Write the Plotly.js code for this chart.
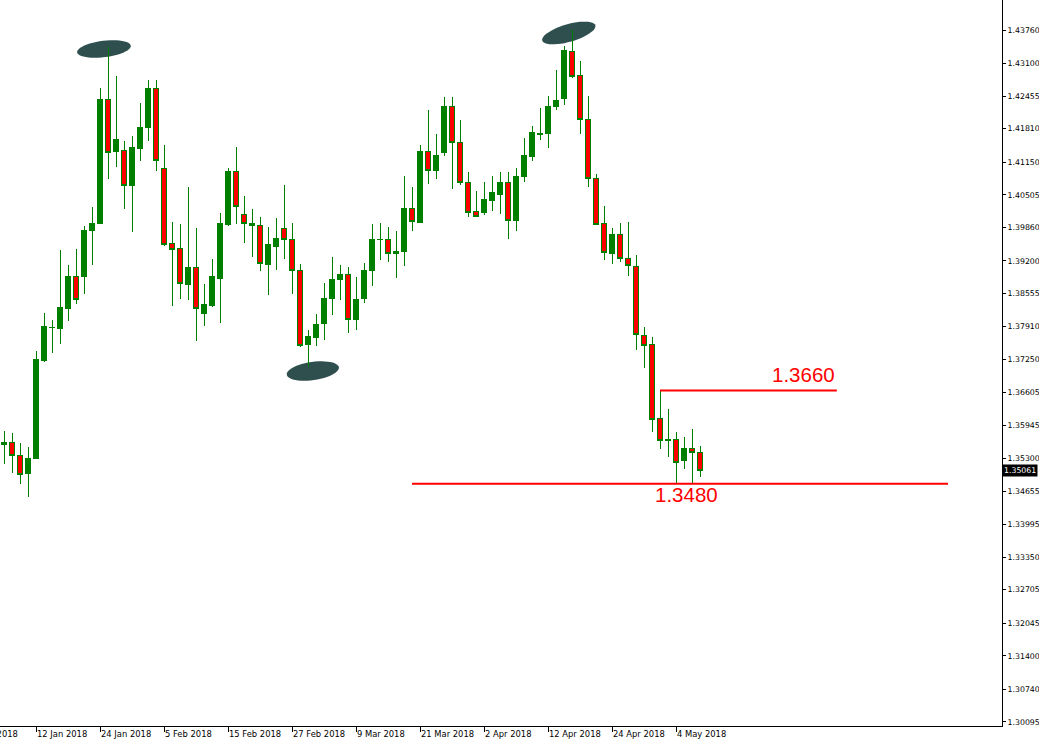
<!DOCTYPE html>
<html>
<head>
<meta charset="utf-8">
<script src="https://cdn.plot.ly/plotly-3.0.1.min.js"></script>
<style>
html, body { margin: 0; padding: 0; overflow: hidden; background: #fff; width: 1039px; height: 747px; }
#chart { position: absolute; left: -60px; top: -20px; width: 1122px; height: 767px; }
#chart .boxlayer path { shape-rendering: crispEdges; }
</style>
</head>
<body>
<div id="chart"></div>
<script>
// Daily candles, 8 Jan 2018 .. 9 May 2018
const open = [
1.35578,1.35617,1.35360,1.35005,1.35307,1.37230,1.37885,1.37862,1.38256,1.38882,
1.38889,1.39797,1.39935,1.42378,1.41357,1.41390,1.40686,1.41417,1.41831,1.42595,
1.41015,1.39534,1.39435,1.38731,1.39079,1.38158,1.38316,1.38849,1.39909,1.40956,
1.40126,1.39948,1.39902,1.39125,1.39481,1.39843,1.39632,1.39020,1.37546,1.37684,
1.37960,1.38454,1.38829,1.38941,1.38039,1.38454,1.39007,1.39626,1.39632,1.39343,
1.39382,1.40225,1.39968,1.41370,1.40982,1.41337,1.42259,1.41548,1.40758,1.40166,
1.40152,1.40383,1.40508,1.40758,1.39995,1.40863,1.41258,1.41706,1.41713,1.42246,
1.42417,1.43345,1.42852,1.42002,1.40831,1.39929,1.39349,1.39731,1.39251,1.39099,
1.37723,1.37539,1.36078,1.35656,1.35676,1.35255,1.35498,1.35419];
const high = [
1.35841,1.35794,1.35597,1.35518,1.37414,1.38165,1.38033,1.39415,1.39119,1.39435,
1.39889,1.40264,1.42615,1.43431,1.42852,1.41568,1.41660,1.42318,1.42773,1.42773,
1.41489,1.39968,1.39929,1.40659,1.39850,1.38744,1.39238,1.40146,1.41035,1.41449,
1.40482,1.40225,1.40067,1.39869,1.40047,1.40699,1.39948,1.39145,1.37835,1.38158,
1.38763,1.39277,1.39119,1.39079,1.38882,1.39158,1.39929,1.39948,1.39869,1.39790,
1.40877,1.40659,1.41489,1.42187,1.41706,1.42437,1.42437,1.41989,1.40955,1.40580,
1.40758,1.40877,1.40955,1.40955,1.41035,1.41634,1.41864,1.42220,1.42457,1.42970,
1.43444,1.43760,1.43148,1.42457,1.40916,1.40284,1.39849,1.39955,1.39975,1.39317,
1.37901,1.37704,1.36637,1.36269,1.35821,1.35729,1.35880,1.35544];
const low = [
1.35196,1.35018,1.34787,1.34544,1.35294,1.37210,1.37388,1.37552,1.38020,1.38355,
1.38553,1.39126,1.39922,1.40811,1.41061,1.40232,1.39777,1.41180,1.41575,1.40982,
1.39501,1.38316,1.38454,1.38434,1.37625,1.37921,1.38296,1.37980,1.39896,1.39935,
1.39560,1.39284,1.39007,1.38533,1.39027,1.39244,1.38553,1.37506,1.37111,1.37526,
1.37645,1.38138,1.38434,1.37783,1.37842,1.38375,1.38711,1.39225,1.39185,1.38869,
1.39106,1.39797,1.39955,1.40725,1.40824,1.41272,1.40626,1.40692,1.40074,1.40070,
1.40113,1.40192,1.40133,1.39639,1.39797,1.40765,1.41179,1.41594,1.41436,1.42187,
1.42285,1.42819,1.41713,1.40666,1.39915,1.39224,1.39145,1.39184,1.38908,1.37447,
1.37091,1.35827,1.35492,1.35334,1.34807,1.35097,1.34794,1.34939];
const close = [
1.35617,1.35360,1.34985,1.35301,1.37243,1.37895,1.37892,1.38270,1.38882,1.38441,
1.39810,1.39948,1.42397,1.41337,1.41588,1.40686,1.41430,1.41844,1.42595,1.41186,
1.39527,1.39428,1.38750,1.39079,1.38263,1.38329,1.38882,1.39929,1.40956,1.40277,
1.39942,1.39902,1.39145,1.39514,1.39652,1.39626,1.39007,1.37526,1.37697,1.37934,
1.38467,1.38842,1.38941,1.38039,1.38447,1.39020,1.39632,1.39632,1.39343,1.39395,
1.40225,1.39975,1.41351,1.40982,1.41291,1.42259,1.41535,1.40745,1.40152,1.40074,
1.40422,1.40541,1.40758,1.39995,1.40857,1.41272,1.41726,1.41713,1.42259,1.42358,
1.43365,1.42832,1.41996,1.40831,1.39922,1.39369,1.39731,1.39244,1.39106,1.37750,
1.37532,1.36071,1.35656,1.35670,1.35215,1.35498,1.35419,1.35061];

// x-axis date labels, one every 8 bars (first one falls before the first bar)
const tickLabels = ["2 Jan 2018","12 Jan 2018","24 Jan 2018","5 Feb 2018","15 Feb 2018",
  "27 Feb 2018","9 Mar 2018","21 Mar 2018","2 Apr 2018","12 Apr 2018","24 Apr 2018","4 May 2018"];
const firstTickBar = -4;
const barsPerTick = 8;

// price scale labels
const priceLabels = ["1.44405","1.43760","1.43100","1.42455","1.41810","1.41150","1.40505",
  "1.39860","1.39200","1.38555","1.37910","1.37250","1.36605","1.35945","1.35300",
  "1.34655","1.33995","1.33350","1.32705","1.32045","1.31400","1.30740","1.30095"];

// horizontal levels drawn on the chart
const levelPrices = [1.3664, 1.3480];
const levelLabels = ["1.3660", "1.3480"];

// highlighted swing points (bar index, price)
const markBars = [12.5, 38.6, 70.6];
const markPrices = [1.43385, 1.37025, 1.43701];

const xIdx = open.map((_, i) => i);
const lastPrice = close[close.length - 1];

const W = 1122, H = 767;
const M = {l: 0, r: 60, t: 0, b: 21};
const xRange = [-8, 124.75];
const yRange = [1.30014, 1.447475];
const sx = (W - M.l - M.r) / (xRange[1] - xRange[0]);
const sy = (H - M.t - M.b) / (yRange[1] - yRange[0]);

function ellipsePath(cx, cy, a, b, tiltDeg) {
  const th = tiltDeg * Math.PI / 180;
  let p = '';
  const n = 48;
  for (let k = 0; k <= n; k++) {
    const t = 2 * Math.PI * k / n;
    const dx = a * Math.cos(t) * Math.cos(th) - b * Math.sin(t) * Math.sin(th);
    const dy = a * Math.cos(t) * Math.sin(th) + b * Math.sin(t) * Math.cos(th);
    p += (k === 0 ? 'M' : 'L') + (cx + dx / sx).toFixed(4) + ',' + (cy + dy / sy).toFixed(6);
  }
  return p + 'Z';
}
const ellSize = [[27, 8.2, 7], [26.3, 9.1, 8], [27.6, 8.8, 16]];

const shapes = [];
markBars.forEach((b, i) => {
  shapes.push({type: 'path', xref: 'x', yref: 'y', layer: 'below',
    path: ellipsePath(b, markPrices[i], ellSize[i][0], ellSize[i][1], ellSize[i][2]),
    fillcolor: '#2F4F4F', line: {width: 0}});
});
const levelSpan = [[82, 104.1], [51, 118]];
levelPrices.forEach((p, i) => {
  shapes.push({type: 'line', xref: 'x', yref: 'y', x0: levelSpan[i][0], x1: levelSpan[i][1],
    y0: p, y1: p, line: {color: '#FF0000', width: 2}});
});

const annotations = [
  {xref: 'x', yref: 'y', x: levelSpan[0][1], y: levelPrices[0], text: levelLabels[0],
   xanchor: 'right', yanchor: 'bottom', yshift: 3, showarrow: false,
   font: {family: 'Liberation Sans, Arial', size: 20.5, color: '#FF0000'}},
  {xref: 'x', yref: 'y', x: 85.25, y: levelPrices[1], text: levelLabels[1],
   xanchor: 'center', yanchor: 'top', yshift: 3, showarrow: false,
   font: {family: 'Liberation Sans, Arial', size: 20.5, color: '#FF0000'}},
  {xref: 'paper', yref: 'y', x: 1, y: lastPrice, text: lastPrice.toFixed(5),
   xanchor: 'left', yanchor: 'middle', showarrow: false, bgcolor: '#000000',
   borderpad: 1, xshift: 0,
   font: {family: 'DejaVu Sans', size: 7.8, color: '#FFFFFF'}}
];

const trace = {
  type: 'candlestick', x: xIdx, open: open, high: high, low: low, close: close,
  increasing: {line: {color: '#008000', width: 1}, fillcolor: '#008000'},
  decreasing: {line: {color: '#008000', width: 1}, fillcolor: '#FF0000'},
  whiskerwidth: 0, hoverinfo: 'skip', showlegend: false
};

const xTickFont = {family: 'DejaVu Sans', size: 8.4, color: '#000000'};
const yTickFont = {family: 'DejaVu Sans', size: 7.8, color: '#000000'};
const layout = {
  width: W, height: H, margin: {l: M.l, r: M.r, t: M.t, b: M.b, pad: 0},
  paper_bgcolor: '#FFFFFF', plot_bgcolor: '#FFFFFF',
  boxgap: 0.3, boxgroupgap: 0,
  showlegend: false,
  xaxis: {type: 'linear', range: xRange, showgrid: false, zeroline: false,
    showline: true, linecolor: '#000000', linewidth: 1,
    ticks: 'outside', ticklen: 5, tickcolor: '#000000', tickwidth: 1,
    tickvals: tickLabels.map((_, k) => firstTickBar + barsPerTick * k), ticktext: tickLabels,
    ticklabelposition: 'outside right', tickfont: xTickFont,
    rangeslider: {visible: false}, fixedrange: true},
  yaxis: {side: 'right', range: yRange, showgrid: false, zeroline: false,
    showline: true, linecolor: '#000000', linewidth: 1,
    ticks: 'outside', ticklen: 3, tickcolor: '#000000', tickwidth: 1,
    tickvals: priceLabels.map(Number), ticktext: priceLabels,
    tickfont: yTickFont, fixedrange: true},
  shapes: shapes, annotations: annotations
};

Plotly.newPlot('chart', [trace], layout, {staticPlot: true, displayModeBar: false});
</script>
</body>
</html>
